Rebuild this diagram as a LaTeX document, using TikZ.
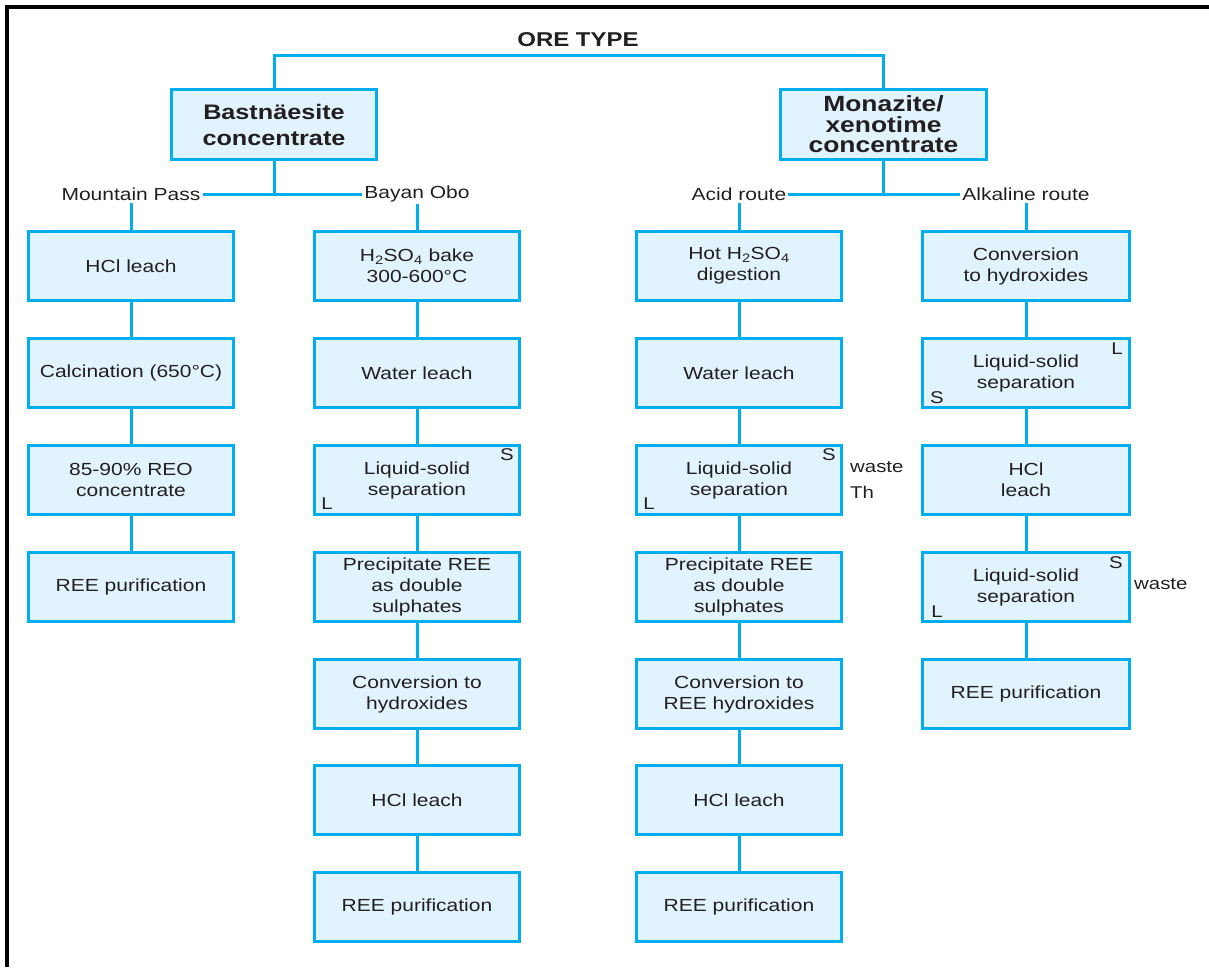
\documentclass[tikz,border=0pt]{standalone}
\usepackage{fontspec}
\setmainfont[FakeStretch=1.2]{Liberation Sans}
\definecolor{cyanline}{HTML}{00AEEF}
\definecolor{boxfill}{HTML}{E1F3FC}
\definecolor{txt}{HTML}{231F20}
\tikzset{
  box/.style={draw=cyanline, fill=boxfill, line width=3pt, minimum width=205.5pt, minimum height=69.5pt, inner sep=0pt, align=center, text=txt, font=\fontsize{17.5}{21}\selectfont},
  titlebox/.style={box, font=\bfseries\fontsize{21}{26}\selectfont},
  monbox/.style={box, font=\bfseries\fontsize{22}{20.5}\selectfont},
  lbl/.style={inner sep=2pt, text=txt, font=\fontsize{17.5}{21}\selectfont},
  sl/.style={inner sep=0pt, text=txt, font=\fontsize{17}{21}\selectfont},
  conn/.style={draw=cyanline, line width=3pt},
  frame/.style={draw=black, line width=4pt}
}
\begin{document}
\begin{tikzpicture}[x=1pt,y=-1pt]
\useasboundingbox (0,0) rectangle (1209,967);
% frame (top and left)
\draw[frame] (5,7) -- (1209,7);
\draw[frame] (7,5) -- (7,967);

% title
\node[inner sep=0pt, text=txt, font=\bfseries\fontsize{20}{24}\selectfont] (ore) at (578,40) {ORE TYPE};
\coordinate (tl) at (274,55);
\coordinate (tr) at (883.5,55);

\node[titlebox] (bast) at (274,124.5) {Bastnäesite\\concentrate};
\node[monbox] (mon) at (883.5,124.5) {Monazite/\\xenotime\\concentrate};

% route labels
\node[lbl] (mp) at (131,194) {Mountain Pass};
\node[lbl] (bo) at (417,194) {Bayan Obo};
\node[lbl] (ar) at (739,194) {Acid route};
\node[lbl] (alk) at (1026,194) {Alkaline route};

% column 1
\node[box] (a1) at (131,266) {HCl leach};
\node[box] (a2) at (131,373) {Calcination (650°C)};
\node[box] (a3) at (131,480) {85-90\% REO\\concentrate};
\node[box] (a4) at (131,587) {REE purification};

% column 2
\node[box] (b1) at (417,266) {H\textsubscript{2}SO\textsubscript{4} bake\\300-600°C};
\node[box] (b2) at (417,373) {Water leach};
\node[box] (b3) at (417,480) {Liquid-solid\\separation};
\node[box] (b4) at (417,587) {Precipitate REE\\as double\\sulphates};
\node[box] (b5) at (417,694) {Conversion to\\hydroxides};
\node[box] (b6) at (417,800) {HCl leach};
\node[box] (b7) at (417,907) {REE purification};
\node[sl] (b3s) at (507,455) {S};
\node[sl] (b3l) at (327,504) {L};

% column 3
\node[box] (c1) at (739,266) {Hot H\textsubscript{2}SO\textsubscript{4}\\digestion};
\node[box] (c2) at (739,373) {Water leach};
\node[box] (c3) at (739,480) {Liquid-solid\\separation};
\node[box] (c4) at (739,587) {Precipitate REE\\as double\\sulphates};
\node[box] (c5) at (739,694) {Conversion to\\REE hydroxides};
\node[box] (c6) at (739,800) {HCl leach};
\node[box] (c7) at (739,907) {REE purification};
\node[sl] (c3s) at (829,455) {S};
\node[sl] (c3l) at (649,504) {L};
\node[sl, anchor=west] (c3w) at (850,467) {waste};
\node[sl, anchor=west] (c3t) at (850,492) {Th};

% column 4
\node[box, minimum width=207.5pt] (d1) at (1026,266) {Conversion\\to hydroxides};
\node[box, minimum width=207.5pt] (d2) at (1026,373) {Liquid-solid\\separation};
\node[box, minimum width=207.5pt] (d3) at (1026,480) {HCl\\leach};
\node[box, minimum width=207.5pt] (d4) at (1026,587) {Liquid-solid\\separation};
\node[box, minimum width=207.5pt] (d5) at (1026,694) {REE purification};
\node[sl] (d2l) at (1117,349) {L};
\node[sl] (d2s) at (937,398) {S};
\node[sl] (d4s) at (1116,563) {S};
\node[sl] (d4l) at (937,612) {L};
\node[sl, anchor=west] (d4w) at (1134,584) {waste};

% connectors: top
\draw[conn] (bast.north) -- (tl) -- (tr) -- (mon.north);
\draw[conn] (bast.south) -- (bast.south |- mp);
\draw[conn] (mp.east) -- (bo.west);
\draw[conn] (mon.south) -- (mon.south |- ar);
\draw[conn] (ar.east) -- (alk.west);
\draw[conn] (mp.south) -- (a1.north);
\draw[conn] (bo.south) -- (b1.north);
\draw[conn] (ar.south) -- (c1.north);
\draw[conn] (alk.south) -- (d1.north);

% column chains
\draw[conn] (a1) -- (a2);
\draw[conn] (a2) -- (a3);
\draw[conn] (a3) -- (a4);
\draw[conn] (b1) -- (b2);
\draw[conn] (b2) -- (b3);
\draw[conn] (b3) -- (b4);
\draw[conn] (b4) -- (b5);
\draw[conn] (b5) -- (b6);
\draw[conn] (b6) -- (b7);
\draw[conn] (c1) -- (c2);
\draw[conn] (c2) -- (c3);
\draw[conn] (c3) -- (c4);
\draw[conn] (c4) -- (c5);
\draw[conn] (c5) -- (c6);
\draw[conn] (c6) -- (c7);
\draw[conn] (d1) -- (d2);
\draw[conn] (d2) -- (d3);
\draw[conn] (d3) -- (d4);
\draw[conn] (d4) -- (d5);
\end{tikzpicture}
\end{document}
